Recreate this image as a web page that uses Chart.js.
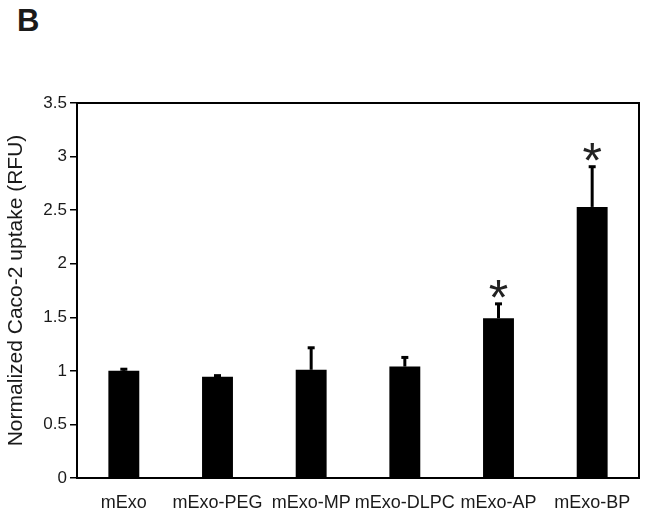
<!DOCTYPE html>
<html>
<head>
<meta charset="utf-8">
<script src="https://cdn.jsdelivr.net/npm/chart.js@4.4.1/dist/chart.umd.min.js"></script>
<style>
    body { margin: 0; background: #fff; }
    #wrap { position: relative; width: 645px; height: 519px; }
    #panel {
        position: absolute; left: 17px; top: 3px;
        font: bold 31px "Liberation Sans", Arial, sans-serif; color: #1a1a1a;
    }
    canvas { position: absolute; left: 0; top: 0; }
</style>
</head>
<body>
<div id="wrap">
    <div id="panel">B</div>
    <canvas id="chart" width="645" height="519"></canvas>
</div>
<script>
// Data
const groups = ['mExo', 'mExo-PEG', 'mExo-MP', 'mExo-DLPC', 'mExo-AP', 'mExo-BP'];
const uptake = [1.00, 0.945, 1.01, 1.04, 1.49, 2.53];
const uptakeErr = [0.02, 0.015, 0.21, 0.09, 0.14, 0.38];
const marks = ['', '', '', '', '*', '*'];
const yTicks = [0, 0.5, 1, 1.5, 2, 2.5, 3, 3.5];

const FONT = '"Liberation Sans", Arial, sans-serif';

// Upward error bars, significance stars and the box frame
const extrasPlugin = {
    id: 'extras',
    afterDatasetsDraw(chart) {
        const ctx = chart.ctx;
        const yScale = chart.scales.y;
        const bars = chart.getDatasetMeta(0).data;
        ctx.save();
        ctx.fillStyle = '#000';
        ctx.strokeStyle = '#000';
        bars.forEach((bar, i) => {
            const x = bar.x;
            const yBase = yScale.getPixelForValue(uptake[i]);
            const yTop = yScale.getPixelForValue(uptake[i] + uptakeErr[i]);
            ctx.lineWidth = 3;
            ctx.beginPath();
            ctx.moveTo(x, yBase);
            ctx.lineTo(x, yTop);
            ctx.stroke();
            ctx.fillRect(x - 3.5, yTop - 1, 7, 3);

            if (marks[i]) {
                ctx.font = '50px ' + FONT;
                ctx.textAlign = 'center';
                ctx.textBaseline = 'alphabetic';
                const m = ctx.measureText(marks[i]);
                ctx.fillStyle = '#222';
                ctx.fillText(marks[i], x, yTop - 5 - m.actualBoundingBoxDescent);
                ctx.fillStyle = '#000';
            }
        });
        const a = chart.chartArea;
        ctx.lineWidth = 2;
        ctx.strokeRect(a.left, a.top, a.right - a.left, a.bottom - a.top);
        ctx.restore();
    }
};

new Chart(document.getElementById('chart'), {
    type: 'bar',
    data: {
        labels: groups,
        datasets: [{
            data: uptake,
            backgroundColor: '#000',
            borderWidth: 0,
            barPercentage: 0.33,
            categoryPercentage: 1
        }]
    },
    options: {
        responsive: false,
        animation: false,
        layout: { padding: { top: 103, right: 6, left: 0, bottom: 0 } },
        plugins: {
            legend: { display: false },
            tooltip: { enabled: false }
        },
        scales: {
            x: {
                grid: { display: false },
                border: { display: true, color: '#000', width: 2 },
                ticks: {
                    color: '#1a1a1a',
                    padding: 6,
                    maxRotation: 0,
                    autoSkip: false,
                    font: { family: FONT, size: 18 }
                },
                afterFit(scale) { scale.height = 41; }
            },
            y: {
                min: 0,
                max: 3.5,
                afterBuildTicks(scale) {
                    scale.ticks = yTicks.map(v => ({ value: v }));
                },
                grid: {
                    display: true,
                    drawOnChartArea: false,
                    drawTicks: true,
                    tickLength: 7,
                    color: '#000',
                    lineWidth: 1.5
                },
                border: { display: true, color: '#000', width: 2 },
                ticks: {
                    color: '#1a1a1a',
                    padding: 3,
                    font: { family: FONT, size: 17 },
                    callback: value => String(value)
                },
                title: {
                    display: true,
                    text: 'Normalized Caco-2 uptake (RFU)',
                    color: '#1a1a1a',
                    font: { family: FONT, size: 21 },
                    padding: { top: 4, bottom: 0 }
                },
                afterFit(scale) { scale.width = 77; }
            }
        }
    },
    plugins: [extrasPlugin]
});
</script>
</body>
</html>
